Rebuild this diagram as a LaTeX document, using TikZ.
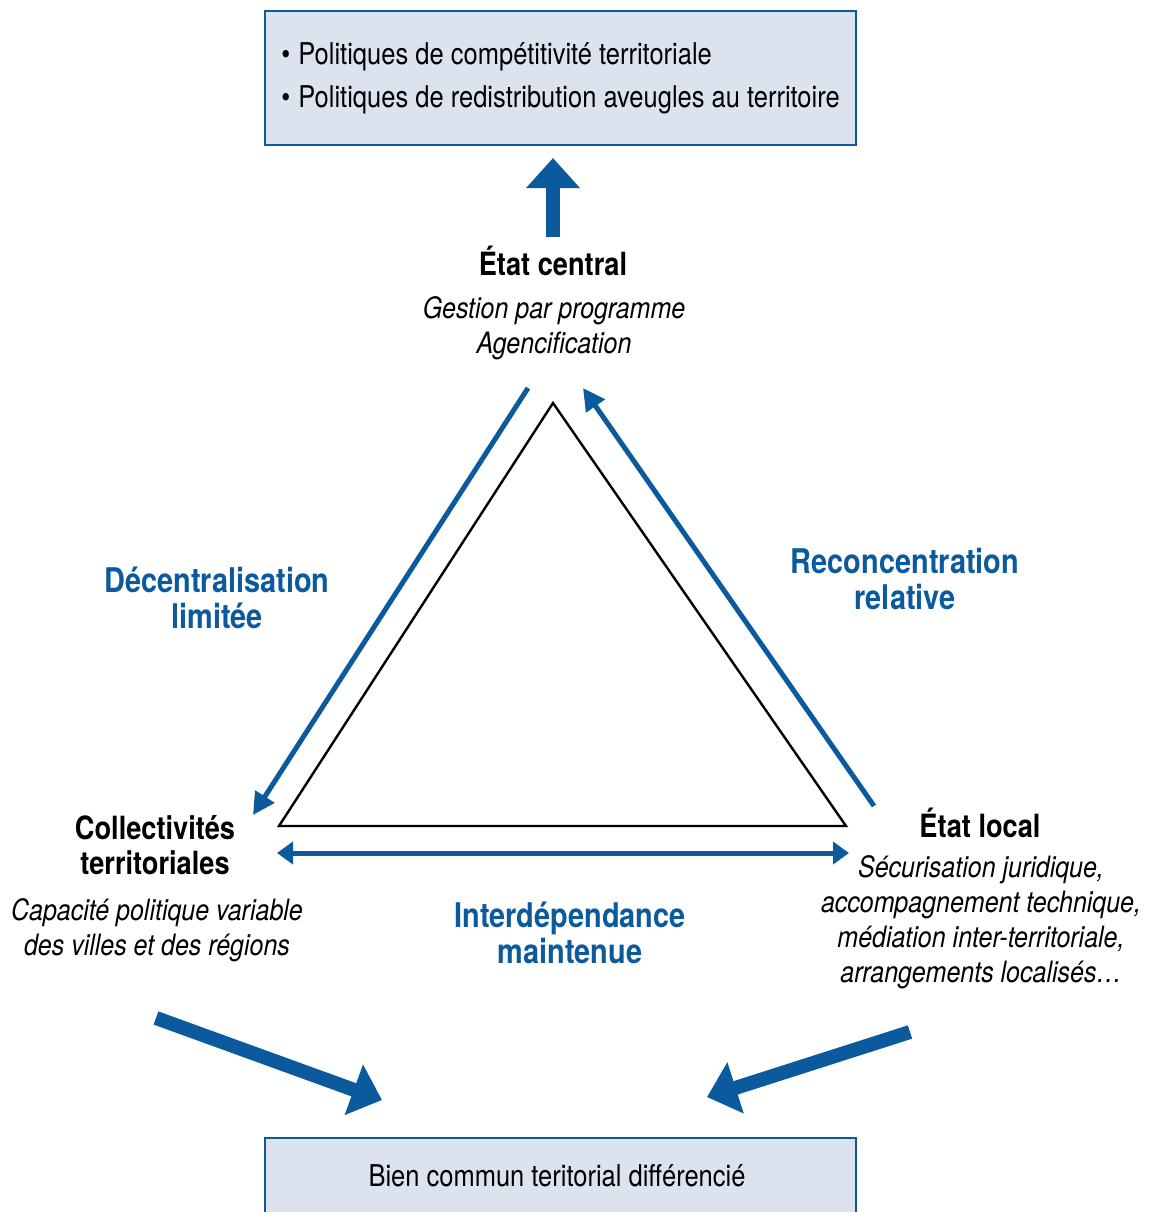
\documentclass[tikz,border=0pt]{standalone}
\usepackage{fontspec}
\setmainfont{TeX Gyre Heros}[FakeStretch=0.85]
\usetikzlibrary{arrows.meta}
\definecolor{mblue}{HTML}{0B5A9E}
\definecolor{boxfill}{HTML}{DCE3EF}
\begin{document}
\begin{tikzpicture}[x=0.5pt,y=-0.5pt,
  boxst/.style={draw=mblue,line width=0.9pt,fill=boxfill,inner sep=0pt},
  txt/.style={font=\fontsize{15}{17.5}\selectfont,inner sep=0pt,align=center},
  btxt/.style={font=\fontsize{16}{17.5}\selectfont\bfseries,inner sep=0pt,align=center},
  itxt/.style={font=\fontsize{14.7}{17.5}\selectfont\itshape,inner sep=0pt,align=center},
  bluelab/.style={font=\fontsize{17}{18}\selectfont\bfseries,text=mblue,inner sep=0pt,align=center},
  thin arrow/.style={draw=mblue,line width=2.5pt,-{Triangle[length=11pt,width=11pt]}},
  dbl arrow/.style={draw=mblue,line width=2.5pt,{Triangle[length=8pt,width=11pt]}-{Triangle[length=8pt,width=11pt]}},
  thick arrow/.style={draw=mblue,line width=7pt,-{Triangle[length=15pt,width=26pt]}},
  tri/.style={draw=black,line width=1.2pt,line join=miter}
]
\useasboundingbox (0,0) rectangle (1152,1212);
% top box
\node[boxst,minimum width=295.5pt,minimum height=67pt] (topbox) at (560.5,78) {};
\node[txt,anchor=base west] (b1) at (281,64) {\textbullet\hspace{4pt}Politiques de compétitivité territoriale};
\node[txt,anchor=base west] (b2) at (281,107) {\textbullet\hspace{4pt}Politiques de redistribution aveugles au territoire};
% bottom box
\node[boxst,minimum width=295.5pt,minimum height=45pt] (botbox) at (560.5,1183) {};
\node[txt,anchor=base] (bien) at (557,1186) {Bien commun teritorial différencié};
% central state
\node[btxt,anchor=base] (ec) at (553,275) {État central};
\node[itxt,anchor=base] (ecsub) at (554,353) {Gestion par programme\\Agencification};
\coordinate (upbot) at (553,237);
\coordinate (uptop) at (553,158);
\draw[thick arrow] (upbot) -- (uptop);
% triangle
\coordinate (A) at (553,403);
\coordinate (B) at (279,826);
\coordinate (C) at (846,826);
\draw[tri] (A) -- (B) -- (C) -- cycle;
% side arrows
\coordinate (l1) at (528,388);
\coordinate (l2) at (253,815);
\draw[thin arrow] (l1) -- (l2);
\coordinate (r1) at (874,806);
\coordinate (r2) at (583,388);
\draw[thin arrow] (r1) -- (r2);
\coordinate (h1) at (277,853);
\coordinate (h2) at (849,853);
\draw[dbl arrow] (h1) -- (h2);
% labels
\node[bluelab,anchor=base] (dec) at (217,628) {Décentralisation\\limitée};
\node[bluelab,anchor=base] (rec) at (905,609) {Reconcentration\\relative};
\node[bluelab,anchor=base] (inter) at (570,963) {Interdépendance\\maintenue};
\node[btxt,anchor=base] (ct) at (155,874) {Collectivités\\territoriales};
\node[itxt,anchor=base] (ctsub) at (157,955) {Capacité politique variable\\des villes et des régions};
\node[btxt,anchor=base] (el) at (980,837) {État local};
\node[itxt,anchor=base] (elsub) at (981,982) {Sécurisation juridique,\\accompagnement technique,\\médiation inter-territoriale,\\arrangements localisés\dots};
% bottom arrows
\coordinate (bl1) at (156,1018);
\coordinate (bl2) at (382,1100);
\draw[thick arrow] (bl1) -- (bl2);
\coordinate (br1) at (910,1032);
\coordinate (br2) at (707,1097);
\draw[thick arrow] (br1) -- (br2);
\end{tikzpicture}
\end{document}
